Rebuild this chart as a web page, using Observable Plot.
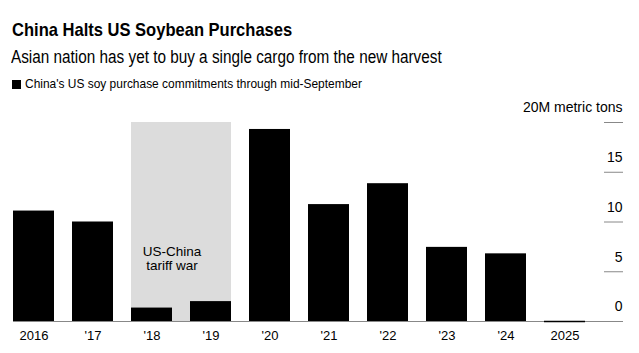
<!DOCTYPE html>
<html><head><meta charset="utf-8">
<script src="https://cdn.jsdelivr.net/npm/d3@7"></script>
<script src="https://cdn.jsdelivr.net/npm/@observablehq/plot@0.6"></script>
<style>
body{margin:0;background:#fff;font-family:"Liberation Sans",Arial,sans-serif;}
#wrap{position:relative;width:639px;height:353px;overflow:hidden;background:#fff}
.t{position:absolute;left:11px;white-space:nowrap;color:#000;transform-origin:0 50%}
#title{left:12px;top:20px;font-size:19px;font-weight:bold;line-height:19px;transform:scaleX(0.87)}
#sub{top:49px;font-size:17.5px;line-height:17px;transform:scaleX(0.875)}
#leg{top:77px;font-size:13.5px;line-height:14px;display:flex;align-items:center}
#leg .sq{display:inline-block;width:9px;height:9px;background:#000;margin-left:1px;margin-right:4px}
#leg .lt{display:inline-block;transform:scaleX(0.885);transform-origin:0 50%}
#chart{position:absolute;left:0;top:96px}
</style></head><body>
<div id="wrap">
  <div class="t" id="title">China Halts US Soybean Purchases</div>
  <div class="t" id="sub">Asian nation has yet to buy a single cargo from the new harvest</div>
  <div class="t" id="leg"><span class="sq"></span><span class="lt">China's US soy purchase commitments through mid-September</span></div>
  <div id="chart"></div>
</div>
<script>
const years = ["2016","'17","'18","'19","'20","'21","'22","'23","'24","2025"];
const values = [11.1, 10.0, 1.35, 2.0, 19.3, 11.75, 13.85, 7.45, 6.8, 0];
const yTicks = [0, 5, 10, 15, 20];
const yUnit = "20M metric tons";
const shadeFrom = "'18", shadeTo = "'19", shadeTop = 20;
const noteLines = ["US-China", "tariff war"];
const noteAt = {year: "'18", value: 6.3};

const data = years.map((y, i) => ({year: y, value: values[i]}));

const shadeMark = (index, scales, vals, dims) => {
  const x = scales.x, y = scales.y;
  const x0 = x(shadeFrom), x1 = x(shadeTo) + x.bandwidth();
  const r = document.createElementNS("http://www.w3.org/2000/svg", "rect");
  r.setAttribute("x", x0);
  r.setAttribute("width", x1 - x0);
  r.setAttribute("y", y(shadeTop));
  r.setAttribute("height", y(0) - y(shadeTop));
  r.setAttribute("fill", "#dcdcdc");
  return r;
};

const chart = Plot.plot({
  width: 639,
  height: 257,
  marginLeft: 13,
  marginRight: 17,
  marginTop: 26,
  marginBottom: 32,
  style: {fontFamily: "Liberation Sans, Arial, sans-serif", fontSize: "13px", color: "#000", background: "#fff"},
  x: {domain: years, paddingInner: 0.31, paddingOuter: 0.287, align: 0, axis: null},
  y: {domain: [0, 20], axis: null},
  marks: [
    shadeMark,
    Plot.text([noteLines.join("\n")], {x: () => noteAt.year, y: () => noteAt.value, dx: 20, fontSize: 13.5, lineHeight: 1.0, letterSpacing: 0.3, fill: "#000"}),
    Plot.ruleY([0], {stroke: "#888", strokeWidth: 1}),
    Plot.barY(data, {x: "year", y: "value", fill: "#000"}),
    Plot.tickY(data.filter(d => d.value === 0), {x: "year", y: "value", stroke: "#000", strokeWidth: 1.5}),
    Plot.axisY({ticks: yTicks, anchor: "right", tickSize: 19, dx: -19, stroke: "#888", tickFormat: () => "", label: null}),
    Plot.axisY({ticks: yTicks, anchor: "right", tickSize: 0, tickPadding: 0, textAnchor: "end", dy: -14.5, fontSize: 14, letterSpacing: 0.6, fill: "#000", tickFormat: d => d === 20 ? yUnit : String(d), label: null}),
    Plot.axisX({tickSize: 0, tickPadding: 9, fontSize: 13, fill: "#000", label: null})
  ]
});
document.getElementById("chart").appendChild(chart);
</script>
</body></html>
